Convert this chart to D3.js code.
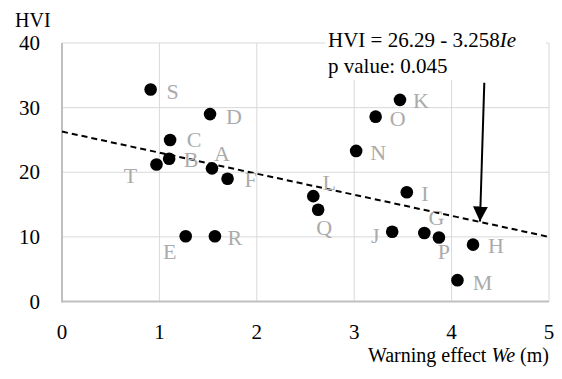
<!DOCTYPE html>
<html>
<head>
<meta charset="utf-8">
<script src="https://cdn.jsdelivr.net/npm/d3@7"></script>
<style>
  body { margin: 0; background: #fff; }
</style>
</head>
<body>
<div id="chart"></div>
<script>
var names = ["A", "B", "C", "D", "E", "F", "G", "H", "I", "J", "K", "L", "M", "N", "O", "P", "Q", "R", "S", "T"];
var we = [1.54, 1.10, 1.11, 1.52, 1.27, 1.70, 3.72, 4.22, 3.54, 3.39, 3.47, 2.58, 4.06, 3.02, 3.22, 3.87, 2.63, 1.57, 0.91, 0.97];
var hvi = [20.6, 22.1, 25.0, 29.0, 10.1, 19.0, 10.6, 8.8, 16.9, 10.8, 31.2, 16.3, 3.3, 23.3, 28.6, 9.9, 14.2, 10.1, 32.8, 21.2];
var xTicks = [0, 1, 2, 3, 4, 5];
var yTicks = [0, 10, 20, 30, 40];
var intercept = 26.29, slope = -3.258;

// label offsets relative to the point, px
var labelOff = {
  A: [10, -15], B: [22, 1], C: [24, 0], D: [24, 2], E: [-16, 15], F: [23, 1],
  G: [12, -15], H: [23, 1], I: [18, 1], J: [-17, 4], K: [21, 1], L: [16, -14],
  M: [25, 2], N: [22, 2], O: [22, 2], P: [5, 14], Q: [6, 18], R: [20, 1],
  S: [22, 2], T: [-26, 11]
};

var width = 562, height = 379;
var margin = { top: 43, right: 13, bottom: 77.5, left: 62 };

var svg = d3.select("#chart").append("svg")
  .attr("width", width)
  .attr("height", height)
  .attr("font-family", "'Liberation Serif', 'Times New Roman', serif");

var x = d3.scaleLinear().domain([0, 5]).range([margin.left, width - margin.right]);
var y = d3.scaleLinear().domain([0, 40]).range([height - margin.bottom, margin.top]);

// gridlines
svg.append("g").selectAll("line")
  .data(yTicks.slice(1))
  .enter().append("line")
  .attr("x1", x(0)).attr("x2", x(5))
  .attr("y1", function(d) { return y(d); })
  .attr("y2", function(d) { return y(d); })
  .attr("stroke", "#d9d9d9").attr("stroke-width", 1);

svg.append("g").selectAll("line")
  .data(xTicks.slice(1))
  .enter().append("line")
  .attr("y1", y(0)).attr("y2", y(40))
  .attr("x1", function(d) { return x(d); })
  .attr("x2", function(d) { return x(d); })
  .attr("stroke", "#d9d9d9").attr("stroke-width", 1);

// axis lines
svg.append("line")
  .attr("x1", x(0)).attr("x2", x(0)).attr("y1", y(0) + 1).attr("y2", y(40))
  .attr("stroke", "#bfbfbf").attr("stroke-width", 2);
svg.append("line")
  .attr("x1", x(0)).attr("x2", x(5)).attr("y1", y(0)).attr("y2", y(0))
  .attr("stroke", "#bfbfbf").attr("stroke-width", 2);

// tick labels
svg.append("g").selectAll("text")
  .data(yTicks)
  .enter().append("text")
  .attr("x", 40)
  .attr("y", function(d) { return y(d) + 7; })
  .attr("text-anchor", "end")
  .style("font-size", "21px")
  .text(function(d) { return d; });

svg.append("g").selectAll("text")
  .data(xTicks)
  .enter().append("text")
  .attr("x", function(d) { return x(d); })
  .attr("y", 339)
  .attr("text-anchor", "middle")
  .style("font-size", "21px")
  .text(function(d) { return d; });

svg.append("text")
  .attr("x", 15).attr("y", 26.5)
  .style("font-size", "20px")
  .text("HVI");

var xt = svg.append("text")
  .attr("x", 549).attr("y", 362)
  .attr("text-anchor", "end")
  .style("font-size", "20px");
xt.append("tspan").text("Warning effect ");
xt.append("tspan").style("font-style", "italic").text("We");
xt.append("tspan").text(" (m)");

// trend line
svg.append("line")
  .attr("x1", x(0)).attr("y1", y(intercept))
  .attr("x2", x(5)).attr("y2", y(intercept + slope * 5))
  .attr("stroke", "#000").attr("stroke-width", 2)
  .attr("stroke-dasharray", "6,4");

// points
var pts = names.map(function(n, i) { return { name: n, we: we[i], hvi: hvi[i] }; });

svg.append("g").selectAll("circle")
  .data(pts)
  .enter().append("circle")
  .attr("cx", function(d) { return x(d.we); })
  .attr("cy", function(d) { return y(d.hvi); })
  .attr("r", 6.3)
  .attr("fill", "#000");

svg.append("g").selectAll("text")
  .data(pts)
  .enter().append("text")
  .attr("x", function(d) { return x(d.we) + labelOff[d.name][0]; })
  .attr("y", function(d) { return y(d.hvi) + labelOff[d.name][1] + 7.5; })
  .attr("text-anchor", "middle")
  .attr("fill", "#ababab")
  .style("font-size", "22px")
  .text(function(d) { return d.name; });

// equation box
svg.append("rect")
  .attr("x", 325).attr("y", 28).attr("width", 221).attr("height", 52)
  .attr("fill", "#fff");

var eq = svg.append("text")
  .attr("x", 328).attr("y", 46.5)
  .style("font-size", "21px");
eq.append("tspan").text("HVI = " + intercept + " - " + Math.abs(slope));
eq.append("tspan").style("font-style", "italic").text("Ie");

svg.append("text")
  .attr("x", 328).attr("y", 73)
  .style("font-size", "21px")
  .text("p value: 0.045");

// arrow
svg.append("defs").append("marker")
  .attr("id", "arr")
  .attr("viewBox", "0 0 10 10")
  .attr("refX", 10).attr("refY", 5)
  .attr("markerWidth", 7.5).attr("markerHeight", 7.5)
  .attr("markerUnits", "strokeWidth")
  .attr("orient", "auto")
  .append("path")
  .attr("d", "M0,0 L10,5 L0,10 Z")
  .attr("fill", "#000");

svg.append("line")
  .attr("x1", 484.3).attr("y1", 82.7)
  .attr("x2", 480).attr("y2", 221.5)
  .attr("stroke", "#000").attr("stroke-width", 2)
  .attr("marker-end", "url(#arr)");
</script>
</body>
</html>
